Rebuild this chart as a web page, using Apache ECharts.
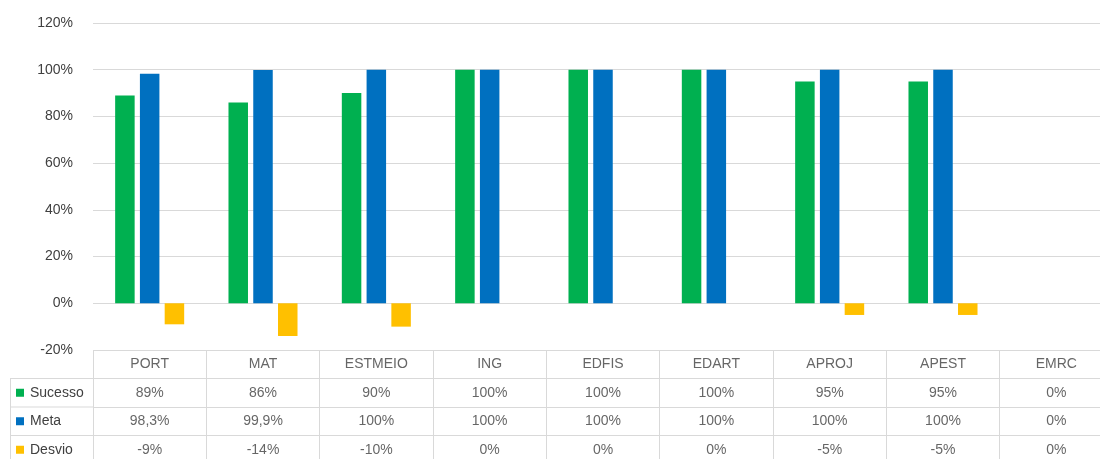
<!DOCTYPE html>
<html lang="pt">
<head>
    <meta charset="UTF-8">
    <title>Sucesso por disciplina</title>
    <style>
        html, body { margin: 0; padding: 0; background: #fff; }
    </style>
</head>
<body>
    <div id="main" style="width:1100px;height:459px;"></div>

    <script src="https://cdn.jsdelivr.net/npm/echarts@6/dist/echarts.min.js"></script>
    <script>
var categories = ['PORT', 'MAT', 'ESTMEIO', 'ING', 'EDFIS', 'EDART', 'APROJ', 'APEST', 'EMRC'];
var sucesso = [89, 86, 90, 100, 100, 100, 95, 95, 0];
var meta = [98.3, 99.9, 100, 100, 100, 100, 100, 100, 0];
var desvio = [-9, -14, -10, 0, 0, 0, -5, -5, 0];
var rowNames = ['', 'Sucesso', 'Meta', 'Desvio'];
var colors = ['#00B050', '#0070C0', '#FFC000'];
var yMin = -20, yMax = 120, yStep = 20;

var textColor = '#404040';
var lineColor = '#D9D9D9';
var font = 'Liberation Sans';

function pct(v) {
    return String(v).replace('.', ',') + '%';
}

// cells of the data table under the chart
var cells = [];
categories.forEach(function (c, i) {
    cells.push({ value: [i, 0], txt: c });
    cells.push({ value: [i, 1], txt: pct(sucesso[i]) });
    cells.push({ value: [i, 2], txt: pct(meta[i]) });
    cells.push({ value: [i, 3], txt: pct(desvio[i]) });
});

var chart = echarts.init(document.getElementById('main'));

chart.setOption({
    backgroundColor: '#fff',
    animation: false,
    textStyle: { fontFamily: font },
    grid: [
        { left: 93, top: 23, width: 1020, height: 327, outerBoundsMode: 'none' },
        { left: 93, top: 350, width: 1020, height: 114, outerBoundsMode: 'none' }
    ],
    xAxis: [{
        type: 'category',
        gridIndex: 0,
        data: categories,
        axisLine: { show: false },
        axisTick: { show: false },
        axisLabel: { show: false }
    }, {
        type: 'category',
        gridIndex: 1,
        data: categories,
        axisLine: { show: false },
        axisTick: { show: false },
        axisLabel: { show: false },
        splitLine: { show: true, interval: 0, lineStyle: { color: lineColor, width: 1 } }
    }],
    yAxis: [{
        type: 'value',
        gridIndex: 0,
        min: yMin,
        max: yMax,
        interval: yStep,
        axisLine: { show: false },
        axisTick: { show: false },
        axisLabel: { formatter: '{value}%', margin: 20, fontSize: 14, color: textColor, fontFamily: font },
        splitLine: { lineStyle: { color: lineColor, width: 1 } }
    }, {
        type: 'category',
        gridIndex: 1,
        inverse: true,
        data: rowNames,
        axisLine: { show: false },
        axisTick: { show: false },
        splitLine: { show: true, interval: 0, lineStyle: { color: lineColor, width: 1 } },
        axisLabel: {
            align: 'left',
            margin: 77,
            formatter: function (v, idx) {
                if (!v) return '';
                return '{s' + (idx - 1) + '|}{t|' + v + '}';
            },
            rich: {
                s0: { backgroundColor: colors[0], width: 8, height: 8 },
                s1: { backgroundColor: colors[1], width: 8, height: 8 },
                s2: { backgroundColor: colors[2], width: 8, height: 8 },
                t: { fontSize: 14, color: textColor, fontFamily: font, padding: [0, 0, 0, 6] }
            }
        }
    }],
    graphic: [
        { type: 'line', silent: true, shape: { x1: 10.5, y1: 378.5, x2: 10.5, y2: 464 }, style: { stroke: lineColor, lineWidth: 1 } },
        { type: 'line', silent: true, shape: { x1: 10, y1: 378.5, x2: 93, y2: 378.5 }, style: { stroke: lineColor, lineWidth: 1 } },
        { type: 'line', silent: true, shape: { x1: 10, y1: 407, x2: 93, y2: 407 }, style: { stroke: lineColor, lineWidth: 1 } },
        { type: 'line', silent: true, shape: { x1: 10, y1: 435.5, x2: 93, y2: 435.5 }, style: { stroke: lineColor, lineWidth: 1 } }
    ],
    series: [{
        name: 'Sucesso',
        type: 'bar',
        data: sucesso,
        barWidth: 19.5,
        barGap: '27%',
        itemStyle: { color: colors[0] }
    }, {
        name: 'Meta',
        type: 'bar',
        data: meta,
        barWidth: 19.5,
        barGap: '27%',
        itemStyle: { color: colors[1] }
    }, {
        name: 'Desvio',
        type: 'bar',
        data: desvio,
        barWidth: 19.5,
        barGap: '27%',
        itemStyle: { color: colors[2] }
    }, {
        name: 'tabela',
        type: 'scatter',
        xAxisIndex: 1,
        yAxisIndex: 1,
        symbolSize: 0,
        silent: true,
        data: cells,
        label: {
            show: true,
            position: 'inside',
            formatter: function (p) { return p.data.txt; },
            color: textColor,
            fontSize: 14,
            fontFamily: font
        }
    }]
});
    </script>
</body>
</html>
